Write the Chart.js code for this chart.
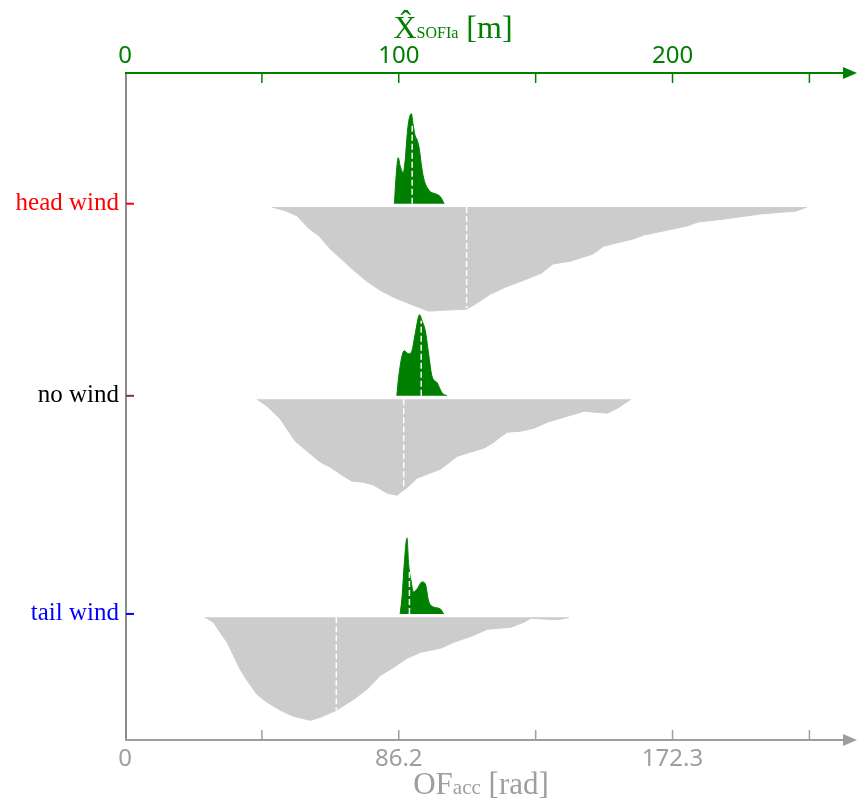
<!DOCTYPE html>
<html>
<head>
<meta charset="utf-8">
<script src="https://cdn.jsdelivr.net/npm/chart.js@4.4.1/dist/chart.umd.min.js"></script>
<style>
  html, body { margin: 0; padding: 0; background: #fff; }
</style>
</head>
<body>
<canvas id="myChart" width="857" height="800"></canvas>
<script>
// rows (top to bottom)
var rows = ['head wind', 'no wind', 'tail wind'];
var rowColors = ['#ff0000', '#000000', '#0000ff'];
var rowTickColors = ['#ff0000', '#8b3030', '#0000ff'];
var rowPos = [80.4, 51.6, 18.9];

// top axis: X_SOFIa [m]
var mTicks = [0, 50, 100, 150, 200, 250];
var mTickLabels = ['0', '', '100', '', '200', ''];
// bottom axis: OF_acc [rad]
var radTicks = [0, 43.08, 86.15, 129.23, 172.3, 215.38];
var radTickLabels = ['0', '', '86.2', '', '172.3', ''];
var radPer100m = 86.15;
var xMaxM = 263;

// green distributions of X_SOFIa [m], density
var headSofiaX = [98.4, 99.1, 99.8, 100.5, 101.6, 102.4, 103.1, 103.8, 104.6, 105.3, 106.0, 106.7, 107.5, 108.2, 108.9, 109.7, 110.4, 111.5, 113.3, 115.2, 116.6];
var headSofiaD = [0, 30, 46, 38, 31, 45, 70, 85, 90, 78, 68, 64, 55, 40, 28, 20, 16, 12, 10, 7, 0];
var noSofiaX = [99.3, 99.8, 101.2, 102.0, 103.6, 104.8, 106.0, 107.6, 108.5, 109.7, 110.9, 112.1, 114.0, 115.8, 117.6];
var noSofiaD = [0, 15, 40, 45, 42, 45, 62, 81, 75, 65, 42, 20, 13, 3, 0];
var tailSofiaX = [100.5, 101.2, 102.0, 103.0, 103.6, 104.5, 105.4, 106.7, 108.5, 109.7, 110.9, 112.7, 115.2, 116.4];
var tailSofiaD = [0, 17, 50, 76, 50, 33, 22, 25, 32, 30, 13, 7, 5, 0];
var sofiaMedian = [104.9, 108.2, 103.9];
var sofiaMedianD = [80, 75, 43];

// gray distributions of OF_acc [rad]
var headOfX = [46.3, 50.7, 54.2, 57.7, 61.1, 64.6, 68.1, 71.5, 76.0, 80.7, 85.1, 89.8, 95.5, 101.2, 107.5, 110.3, 115.0, 119.8, 126.4, 131.1, 134.6, 140.3, 147.2, 150.7, 159.8, 163.3, 176.8, 180.3, 188.5, 199.8, 211.2, 214.6];
var headOfD = [0, 4, 9, 21, 29, 42, 52, 62, 74, 84, 91, 97, 104, 103, 102, 97, 87, 80, 72, 66, 57, 54, 47, 39, 32, 28, 19, 15, 12, 7, 4, 0];
var noOfX = [41.5, 44.7, 46.7, 48.9, 51.0, 53.6, 57.3, 61.5, 64.6, 68.8, 71.4, 75.1, 78.3, 80.4, 82.5, 85.6, 87.2, 89.3, 91.9, 95.1, 99.3, 104.6, 108.7, 112.9, 116.1, 117.2, 120.3, 124.5, 128.7, 132.9, 138.2, 144.5, 147.6, 151.8, 155.0, 159.2];
var noOfD = [0, 7, 13, 20, 30, 42, 52, 63, 68, 77, 82, 83, 86, 90, 94, 96, 92, 87, 79, 75, 70, 57, 53, 49, 43, 40, 33, 32, 29, 23, 18, 12, 13, 14, 9, 0];
var tailOfX = [25.2, 27.8, 29.9, 32.1, 34.1, 36.2, 38.4, 41.5, 44.7, 48.9, 53.0, 58.3, 61.5, 66.5, 72.0, 76.2, 80.4, 84.6, 88.8, 93.0, 99.3, 103.5, 109.8, 114.0, 121.4, 125.5, 127.7, 132.9, 137.1, 139.7];
var tailOfD = [0, 5, 15, 25, 38, 52, 63, 77, 85, 93, 99, 103, 100, 93, 82, 72, 58, 50, 41, 35, 31, 25, 18, 12, 10, 5, 1, 2, 2, 0];
var ofMedian = [107.5, 87.7, 66.5];
var ofMedianD = [101, 90, 93];

var densUnit = 0.15;   // y units per density unit
var grayGap = 0.5;     // white gap between the green and gray shapes

var GREEN = '#008000';
var GRAY_FILL = '#cccccc';
var GRAY_AXIS = '#9e9e9e';

var sofiaX = [headSofiaX, noSofiaX, tailSofiaX];
var sofiaD = [headSofiaD, noSofiaD, tailSofiaD];
var ofX = [headOfX, noOfX, tailOfX];
var ofD = [headOfD, noOfD, tailOfD];

var datasets = [];
rows.forEach(function (r, i) {
    var base = rowPos[i];
    var gBase = base - grayGap;
    datasets.push({
        label: r + ' OF',
        order: 2,
        xAxisID: 'x', yAxisID: 'y',
        data: ofX[i].map(function (x, k) { return { x: x, y: gBase - ofD[i][k] * densUnit }; }),
        fill: { value: gBase },
        backgroundColor: GRAY_FILL, borderColor: GRAY_FILL, borderWidth: 1,
        pointRadius: 0, tension: 0
    });
    datasets.push({
        label: r + ' SOFIa',
        order: 2,
        xAxisID: 'x2', yAxisID: 'y',
        data: sofiaX[i].map(function (x, k) { return { x: x, y: base + sofiaD[i][k] * densUnit }; }),
        fill: { value: base },
        backgroundColor: GREEN, borderColor: GREEN, borderWidth: 1,
        pointRadius: 0, cubicInterpolationMode: 'monotone'
    });
    datasets.push({
        label: r + ' OF median',
        order: 1,
        xAxisID: 'x', yAxisID: 'y',
        data: [{ x: ofMedian[i], y: gBase }, { x: ofMedian[i], y: gBase - ofMedianD[i] * densUnit }],
        fill: false, borderColor: '#ffffff', borderWidth: 1.5, borderDash: [6, 3], pointRadius: 0
    });
    datasets.push({
        label: r + ' SOFIa median',
        order: 1,
        xAxisID: 'x2', yAxisID: 'y',
        data: [{ x: sofiaMedian[i], y: base }, { x: sofiaMedian[i], y: base + sofiaMedianD[i] * densUnit }],
        fill: false, borderColor: '#ffffff', borderWidth: 1.5, borderDash: [6, 3], pointRadius: 0
    });
});

function drawParts(ctx, parts, cx, baseline, color) {
    var total = 0;
    parts.forEach(function (p) {
        ctx.font = p.size + 'px "Liberation Serif", serif';
        p.w = ctx.measureText(p.t).width;
        total += p.w;
    });
    var x = cx - total / 2;
    ctx.fillStyle = color;
    ctx.textBaseline = 'alphabetic';
    ctx.textAlign = 'left';
    parts.forEach(function (p) {
        ctx.font = p.size + 'px "Liberation Serif", serif';
        ctx.fillText(p.t, x, baseline + (p.dy || 0));
        x += p.w;
    });
}

function arrowAxis(ctx, x0, x1, y, color) {
    ctx.strokeStyle = color;
    ctx.fillStyle = color;
    ctx.lineWidth = 2;
    ctx.beginPath();
    ctx.moveTo(x0, y);
    ctx.lineTo(x1 - 8, y);
    ctx.stroke();
    ctx.beginPath();
    ctx.moveTo(x1, y);
    ctx.lineTo(x1 - 14, y - 6);
    ctx.lineTo(x1 - 14, y + 6);
    ctx.closePath();
    ctx.fill();
}

var axesPlugin = {
    id: 'axesPlugin',
    afterDraw: function (chart) {
        var ctx = chart.ctx, a = chart.chartArea;
        var sx = chart.scales.x, st = chart.scales.x2, sy = chart.scales.y;
        ctx.save();
        // left axis
        ctx.strokeStyle = '#666666';
        ctx.lineWidth = 1.5;
        ctx.beginPath();
        ctx.moveTo(a.left + 1, a.top);
        ctx.lineTo(a.left + 1, a.bottom);
        ctx.stroke();
        // top and bottom axes with arrows
        arrowAxis(ctx, a.left, chart.width, a.top, GREEN);
        arrowAxis(ctx, a.left, chart.width, a.bottom, GRAY_AXIS);
        ctx.lineWidth = 1.5;
        ctx.strokeStyle = GREEN;
        mTicks.forEach(function (v) {
            if (v === 0) return;
            var px = st.getPixelForValue(v);
            ctx.beginPath(); ctx.moveTo(px, a.top); ctx.lineTo(px, a.top + 10); ctx.stroke();
        });
        ctx.strokeStyle = GRAY_AXIS;
        radTicks.forEach(function (v) {
            if (v === 0) return;
            var px = sx.getPixelForValue(v);
            ctx.beginPath(); ctx.moveTo(px, a.bottom); ctx.lineTo(px, a.bottom - 10); ctx.stroke();
        });
        // row ticks
        ctx.lineWidth = 2;
        rowPos.forEach(function (p, i) {
            var py = sy.getPixelForValue(p);
            ctx.strokeStyle = rowTickColors[i];
            ctx.beginPath(); ctx.moveTo(a.left + 1, py); ctx.lineTo(a.left + 9, py); ctx.stroke();
        });
        // axis titles
        drawParts(ctx, [
            { t: 'X\u0302', size: 32 },
            { t: 'SOFIa', size: 16 },
            { t: ' [m]', size: 32 }
        ], 453, 38, GREEN);
        drawParts(ctx, [
            { t: 'OF', size: 31 },
            { t: 'acc', size: 21 },
            { t: ' [rad]', size: 31 }
        ], 481, 794, GRAY_AXIS);
        ctx.restore();
    }
};

var ctx1 = document.getElementById('myChart').getContext('2d');
var myChart = new Chart(ctx1, {
    type: 'line',
    data: { datasets: datasets },
    options: {
        responsive: false,
        animation: false,
        events: [],
        layout: { padding: { left: 0, right: 12, top: 0, bottom: 0 } },
        plugins: { legend: { display: false }, tooltip: { enabled: false } },
        scales: {
            x: {
                type: 'linear', position: 'bottom',
                min: 0, max: xMaxM * radPer100m / 100,
                afterBuildTicks: function (s) { s.ticks = radTicks.map(function (v) { return { value: v }; }); },
                afterFit: function (s) { s.height = 60; },
                grid: { display: false, drawTicks: false },
                border: { display: false },
                ticks: {
                    autoSkip: false, maxRotation: 0, padding: 5,
                    color: GRAY_AXIS,
                    font: { family: '"Noto Sans", sans-serif', size: 24 },
                    callback: function (v, i) { return radTickLabels[i]; }
                }
            },
            x2: {
                type: 'linear', position: 'top',
                min: 0, max: xMaxM,
                afterBuildTicks: function (s) { s.ticks = mTicks.map(function (v) { return { value: v }; }); },
                afterFit: function (s) { s.height = 73; },
                grid: { display: false, drawTicks: false },
                border: { display: false },
                ticks: {
                    autoSkip: false, maxRotation: 0, padding: 2,
                    color: GREEN,
                    font: { family: '"Noto Sans", sans-serif', size: 24 },
                    callback: function (v, i) { return mTickLabels[i]; }
                }
            },
            y: {
                type: 'linear', position: 'left',
                min: 0, max: 100,
                afterBuildTicks: function (s) { s.ticks = rowPos.map(function (v) { return { value: v }; }); },
                afterFit: function (s) { s.width = 125; },
                grid: { display: false, drawTicks: false },
                border: { display: false },
                ticks: {
                    autoSkip: false, padding: 6,
                    color: function (c) { return rowColors[c.index]; },
                    font: { family: '"Liberation Serif", serif', size: 25 },
                    callback: function (v, i) { return rows[i]; }
                }
            }
        }
    },
    plugins: [axesPlugin]
});
</script>
</body>
</html>
